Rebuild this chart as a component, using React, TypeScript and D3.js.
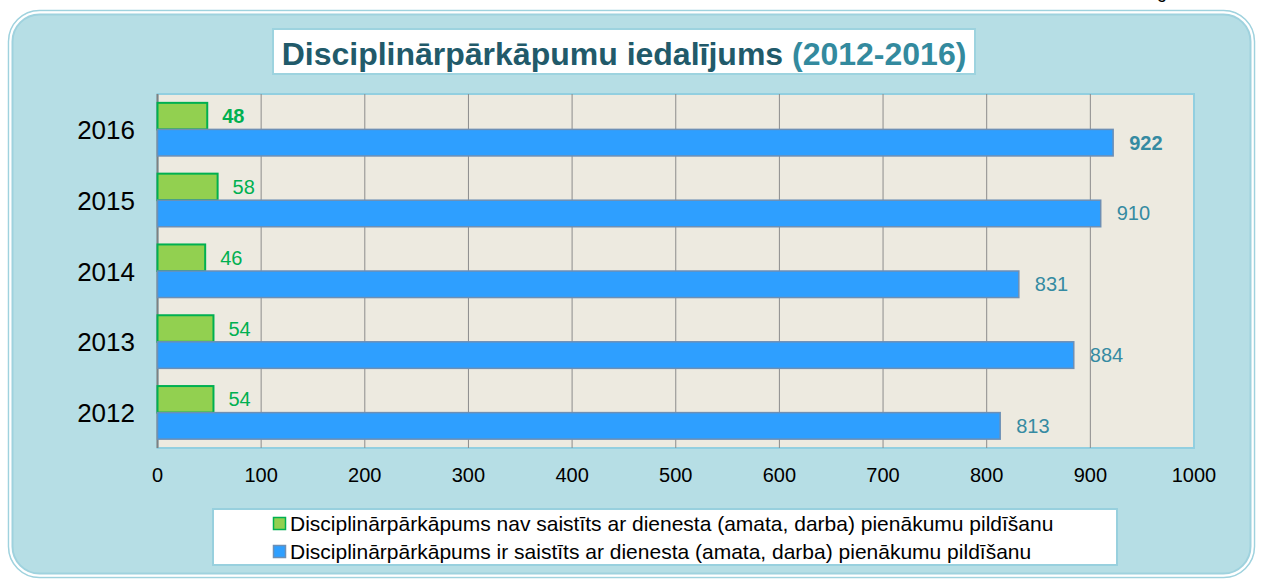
import React from 'react';
import * as d3 from 'd3';

// data
const years = ['2016', '2015', '2014', '2013', '2012'];
const notRelated = [48, 58, 46, 54, 54];
const related = [922, 910, 831, 884, 813];
const ticks = [0, 100, 200, 300, 400, 500, 600, 700, 800, 900, 1000];
const seriesNames = [
  'Disciplinārpārkāpums nav saistīts ar dienesta (amata, darba) pienākumu pildīšanu',
  'Disciplinārpārkāpums ir saistīts ar dienesta (amata, darba) pienākumu pildīšanu',
];

const W = 1261;
const H = 580;
const font = 'Arial, "Liberation Sans", sans-serif';

const GREEN = '#92d050';
const GREEN_STROKE = '#00b050';
const BLUE = '#2e9fff';
const BLUE_STROKE = '#6d8fb5';
const BLUE_LABEL = '#358ba2';

function App() {
  const plot = { left: 157.5, right: 1194, top: 94, bottom: 448 };

  const x = d3.scaleLinear().domain([0, 1000]).range([plot.left, plot.right]);
  const y = d3
    .scaleBand()
    .domain(years)
    .range([plot.top, plot.bottom])
    .paddingInner(0.25)
    .paddingOuter(0.125);
  const sub = d3.scaleBand().domain(['a', 'b']).range([0, y.bandwidth()]);

  return (
    <svg width={W} height={H} style={{ display: 'block', position: 'absolute', left: 0, top: 0 }}>
      {/* stray glyph cut off at the top edge */}
      <text x={1157} y={-2} fontFamily={font} fontSize={18} fill="#000">g</text>

      {/* outer rounded panel */}
      <rect x={8.5} y={10.5} width={1246} height={567} rx={31} fill="none" stroke="#9fd2de" strokeWidth={1.5} />
      <rect x={10.5} y={12.5} width={1242} height={563} rx={29} fill="none" stroke="#ffffff" strokeWidth={1.5} />
      <rect x={12.5} y={14.5} width={1238} height={559} rx={27} fill="#b6dee5" stroke="#9fd2de" strokeWidth={2} />

      {/* title */}
      <rect x={273} y={29} width={702} height={45} fill="#ffffff" stroke="#9dd3df" strokeWidth={2} />
      <text x={624} y={64.5} textAnchor="middle" fontFamily={font} fontSize={32} fontWeight="bold" fill="#215a6a">
        Disciplinārpārkāpumu iedalījums <tspan fill="#338a9e">(2012-2016)</tspan>
      </text>

      {/* plot area */}
      <rect
        x={plot.left}
        y={plot.top}
        width={plot.right - plot.left}
        height={plot.bottom - plot.top}
        fill="#edeae0"
        stroke="#92cfe0"
        strokeWidth={2}
      />
      {ticks.slice(1, -1).map((t) => (
        <line key={t} x1={x(t)} x2={x(t)} y1={plot.top} y2={plot.bottom} stroke="#8c8c8c" strokeWidth={1} />
      ))}
      <line x1={plot.left} x2={plot.left} y1={plot.top} y2={plot.bottom} stroke="#808080" strokeWidth={2} />

      {/* bars */}
      {years.map((yr, i) => {
        const y0 = y(yr) as number;
        const gy = y0 + (sub('a') as number);
        const by = y0 + (sub('b') as number);
        const bw = sub.bandwidth();
        const bold = i === 0 ? 'bold' : 'normal';
        return (
          <g key={yr}>
            <rect x={x(0)} y={gy} width={x(notRelated[i]) - x(0)} height={bw} fill={GREEN} stroke={GREEN_STROKE} strokeWidth={2} />
            <rect x={x(0)} y={by} width={x(related[i]) - x(0)} height={bw} fill={BLUE} stroke={BLUE_STROKE} strokeWidth={1.5} />
            <text x={x(notRelated[i]) + 15} y={gy + bw / 2 + 7} fontFamily={font} fontSize={20} fontWeight={bold} fill={GREEN_STROKE}>
              {notRelated[i]}
            </text>
            <text x={x(related[i]) + 16} y={by + bw / 2 + 7} fontFamily={font} fontSize={20} fontWeight={bold} fill={BLUE_LABEL}>
              {related[i]}
            </text>
            <text x={135} y={y0 + y.bandwidth() / 2 + 9.5} textAnchor="end" fontFamily={font} fontSize={26} fill="#000">
              {yr}
            </text>
          </g>
        );
      })}

      {/* x axis labels */}
      {ticks.map((t) => (
        <text key={t} x={x(t)} y={482} textAnchor="middle" fontFamily={font} fontSize={20} fill="#000">
          {t}
        </text>
      ))}

      {/* legend */}
      <rect x={213} y={509} width={904} height={56} fill="#ffffff" stroke="#98d0de" strokeWidth={2} />
      {seriesNames.map((name, i) => (
        <g key={name} transform={`translate(273,${517 + i * 28})`}>
          <rect x={0.5} y={0.5} width={12} height={12} fill={i === 0 ? GREEN : BLUE} stroke={i === 0 ? GREEN_STROKE : BLUE_STROKE} strokeWidth={1.5} />
          <text x={17} y={13.5} fontFamily={font} fontSize={21} fill="#000">
            {name}
          </text>
        </g>
      ))}
    </svg>
  );
}

export default App;
